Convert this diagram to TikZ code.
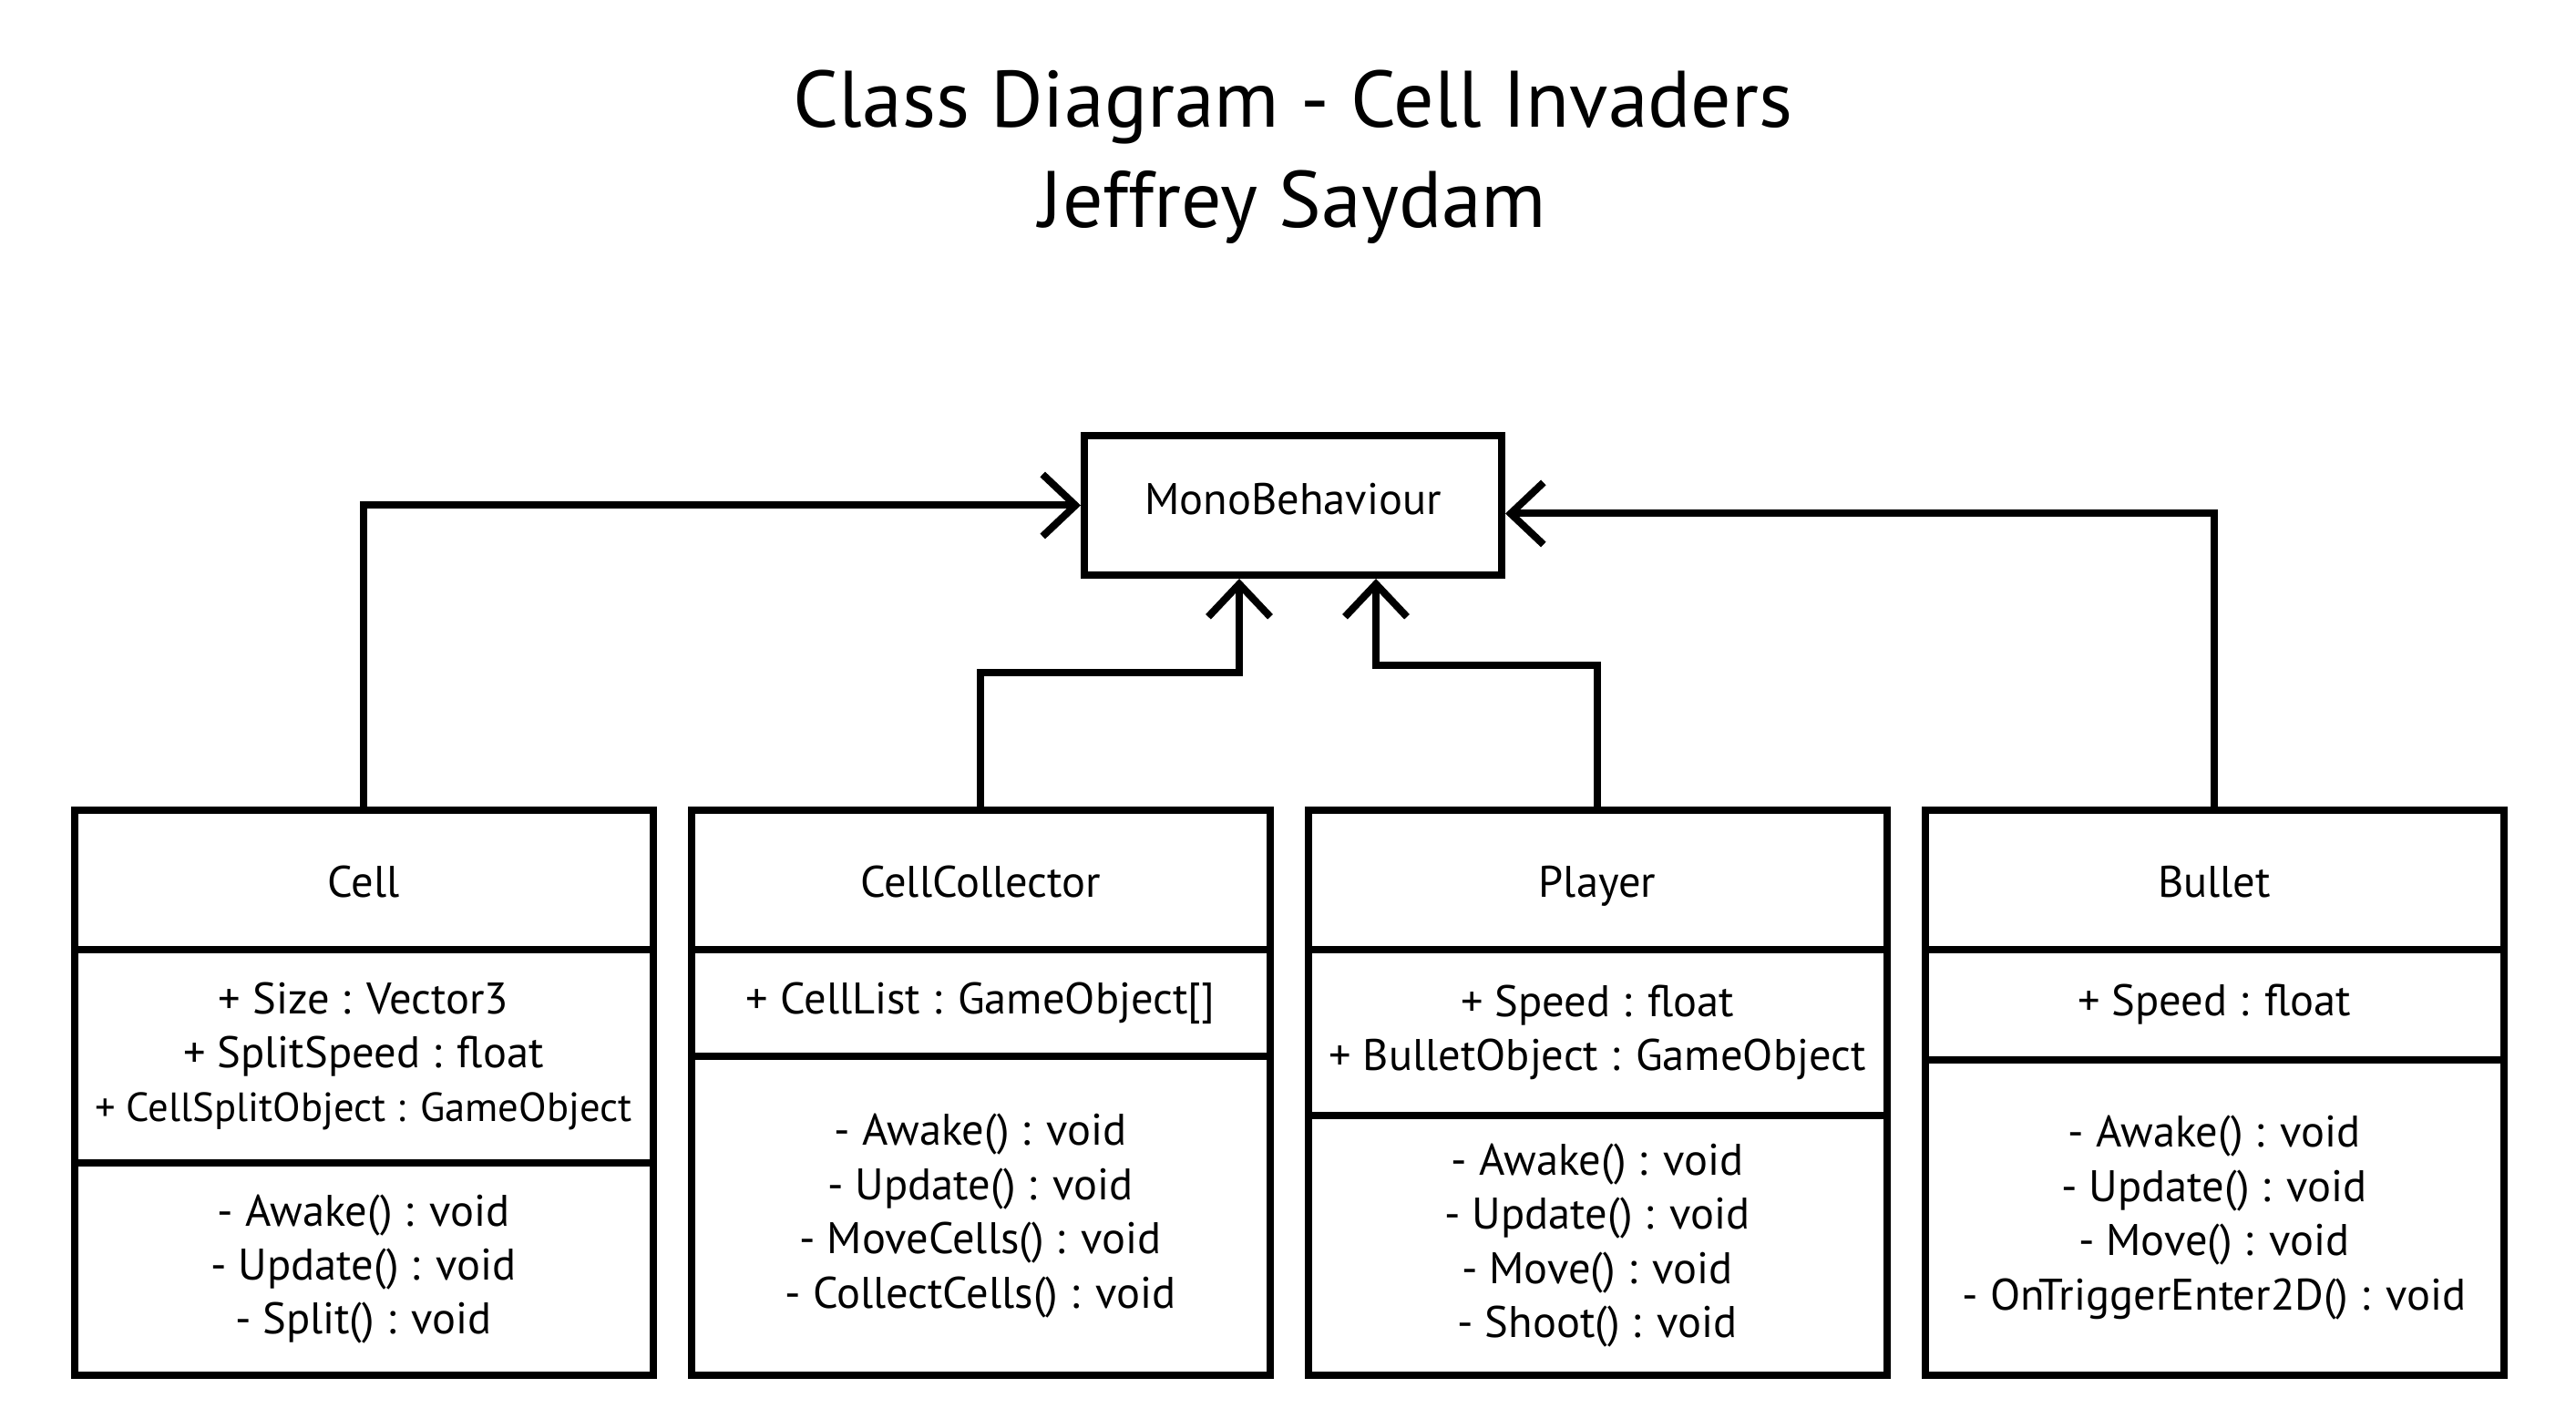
\documentclass[tikz,border=0pt]{standalone}
\usepackage{fontspec}
\setmainfont{PT Sans}
\usetikzlibrary{arrows.meta, positioning}

\begin{document}
\begin{tikzpicture}[
  every node/.style={align=center, font=\fontsize{13.8}{16.9}\selectfont},
  title/.style={font=\fontsize{25}{30}\selectfont, anchor=base},
  cname/.style={draw, line width=0.08cm, outer sep=0pt, minimum width=6.35cm,
                minimum height=1.53cm, inner sep=2pt, anchor=north,
                text height=0.45cm, text depth=0.08cm},
  cpart/.style={draw, line width=0.08cm, outer sep=0pt, minimum width=6.35cm,
                inner sep=2pt, below=0pt of #1},
  inh/.style={-{Straight Barb[length=3.6mm, width=6.8mm]}, line width=0.08cm},
]
  \useasboundingbox (0,0) rectangle (28.27,-15.57);

  \node[title] (title1) at (14.19,-1.40) {Class Diagram - Cell Invaders};
  \node[title] (title2) at (14.19,-2.50) {Jeffrey Saydam};

  \node[draw, line width=0.08cm, minimum width=4.58cm, minimum height=1.53cm,
        text depth=0.14cm] (mono) at (14.19,-5.545) {MonoBehaviour};

  % Cell
  \node[cname] (cell) at (3.99,-8.89) {Cell};
  \node[cpart=cell, minimum height=2.34cm] (cellattr)
        {+ Size : Vector3\\+ SplitSpeed : float\\
         {\fontsize{12.7}{15}\selectfont + CellSplitObject : GameObject}};
  \node[cpart=cellattr, minimum height=2.33cm] (cellops)
        {- Awake() : void\\- Update() : void\\- Split() : void};

  % CellCollector
  \node[cname] (coll) at (10.76,-8.89) {CellCollector};
  \node[cpart=coll, minimum height=1.17cm] (collattr)
        {+ CellList : GameObject[]};
  \node[cpart=collattr, minimum height=3.50cm] (collops)
        {- Awake() : void\\- Update() : void\\- MoveCells() : void\\- CollectCells() : void};

  % Player
  \node[cname] (player) at (17.53,-8.89) {Player};
  \node[cpart=player, minimum height=1.82cm] (playerattr)
        {+ Speed : float\\+ BulletObject : GameObject};
  \node[cpart=playerattr, minimum height=2.85cm] (playerops)
        {- Awake() : void\\- Update() : void\\- Move() : void\\- Shoot() : void};

  % Bullet
  \node[cname] (bullet) at (24.30,-8.89) {Bullet};
  \node[cpart=bullet, minimum height=1.21cm] (bulletattr)
        {+ Speed : float};
  \node[cpart=bulletattr, minimum height=3.46cm] (bulletops)
        {- Awake() : void\\- Update() : void\\- Move() : void\\- OnTriggerEnter2D() : void};

  % inheritance
  \draw[inh] (cell.north) |- (mono.west);
  \draw[inh] (bullet.north) |- ([yshift=-0.09cm]mono.east);
  \draw[inh] (coll.north) -- ++(0,1.51) -| ([xshift=-0.59cm]mono.south);
  \draw[inh] (player.north) -- ++(0,1.59) -| ([xshift=0.91cm]mono.south);
\end{tikzpicture}
\end{document}
